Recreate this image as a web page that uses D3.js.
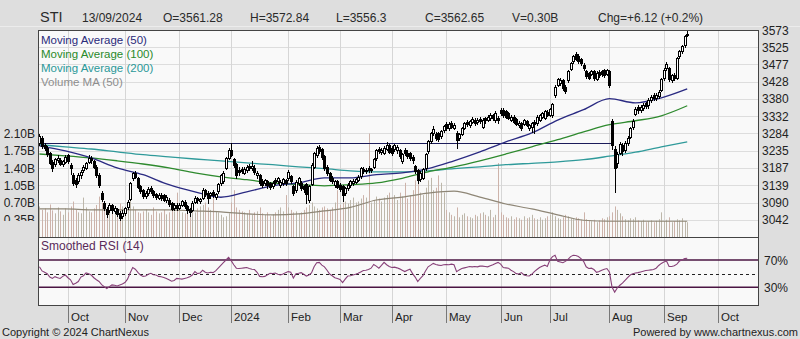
<!DOCTYPE html>
<html><head><meta charset="utf-8">
<script src="https://cdn.jsdelivr.net/npm/d3@7"></script>
<style>
html,body{margin:0;padding:0;background:#dedede;}
svg{display:block;font-family:"Liberation Sans",Arial,sans-serif;}
</style></head><body>
<svg id="c" width="800" height="339"></svg>
<script>
// ---------- calendar (categories) ----------
const calendarStart = '2023-09-15';
const calendarEnd = '2024-10-31';
const holidays = ['2023-11-13','2023-12-25','2024-01-01','2024-02-12','2024-03-29','2024-04-10','2024-05-01','2024-05-22','2024-06-17','2024-08-09','2024-10-31'];
const monthLabels = ['Oct','Nov','Dec','2024','Feb','Mar','Apr','May','Jun','Jul','Aug','Sep','Oct'];

// ---------- header / legend text ----------
const headerItems = ['STI','13/09/2024','O=3561.28','H=3572.84','L=3556.3','C=3562.65','V=0.30B','Chg=+6.12 (+0.2%)'];
const legendItems = ['Moving Average (50)','Moving Average (100)','Moving Average (200)','Volume MA (50)'];

// ---------- axis ticks ----------
const priceTicks = [3042,3090,3139,3187,3235,3284,3332,3380,3428,3477,3525,3573];
const volumeTicks = [0.35,0.70,1.05,1.40,1.75,2.10];
const volumeTickLabels = ['0.35B','0.70B','1.05B','1.40B','1.75B','2.10B'];
const rsiBands = [70,30];
const rsiBandLabels = ['70%','30%'];
const rsiMid = 50;

// ---------- daily OHLC (one value per trading day) ----------
const opens = [3258,3272,3250,3244,3228,3203,3198,3208,3210,3198,3204,
3222,3196,3168,3152,3150,3166,3180,3188,3204,3214,3206,3190,3168,3118,3090,3072,3070,3082,3066,3072,3062,3052,
3062,3078,3100,3158,3172,3158,3136,3124,3108,3116,3130,3122,3114,3104,3112,3110,3098,3098,3088,3074,3084,
3076,3084,3092,3080,3072,3070,3092,3102,3094,3104,3124,3118,3110,3120,3106,3122,3144,3150,3188,3216,
3238,3212,3198,3180,3184,3174,3182,3192,3186,3188,3166,3166,3150,3144,3150,3144,3136,3154,3150,3140,3145,3152,
3158,3165,3136,3125,3146,3145,3136,3142,3098,3142,3190,3222,3246,3240,3221,3190,3172,3160,3138,3150,
3140,3136,3118,3132,3138,3144,3148,3154,3164,3184,3178,3186,3180,3190,3214,3240,3232,3230,3240,3250,
3244,3240,3236,3236,3206,3236,3230,3228,3218,3192,3180,3156,3160,3186,3234,3262,3284,3282,3284,3276,3292,
3310,3298,3312,3300,3286,3270,3282,3300,3316,3306,3316,3320,3316,3324,3302,3326,3322,3326,3334,3320,3328,
3350,3350,3346,3340,3322,3330,3324,3306,3312,3310,3318,3298,3302,3316,3312,3322,3330,3328,3344,
3336,3336,3390,3420,3424,3432,3414,3432,3464,3486,3506,3500,3492,3476,3458,3452,3450,3458,3436,3456,3458,3460,3450,
3458,3318,3240,3200,3230,3250,3236,3258,3274,3302,3338,3358,3348,3354,3368,3362,3376,3390,3382,3388,3406,
3438,3466,3466,3434,3446,3440,3500,3514,3530,3561.28];
const highs = [3282,3276,3256,3248,3232,3208,3216,3222,3214,3210,3224,
3226,3200,3172,3160,3172,3182,3194,3204,3224,3220,3210,3194,3172,3122,3094,3078,3088,3086,3080,3076,3066,3068,
3078,3096,3149,3176,3178,3162,3140,3128,3122,3134,3136,3126,3118,3116,3116,3114,3110,3102,3092,3088,3088,
3090,3098,3096,3084,3076,3094,3108,3106,3104,3130,3128,3122,3120,3124,3118,3146,3170,3178,3218,3242,
3256,3216,3202,3190,3190,3190,3196,3198,3206,3194,3178,3170,3156,3156,3154,3148,3150,3160,3162,3152,3160,3156,
3180,3168,3140,3152,3162,3150,3140,3146,3140,3200,3232,3248,3250,3244,3224,3194,3176,3164,3154,3154,
3144,3140,3134,3144,3154,3156,3160,3166,3190,3190,3188,3192,3188,3216,3240,3246,3244,3248,3260,3254,
3248,3254,3252,3240,3230,3242,3236,3232,3222,3196,3184,3178,3188,3230,3266,3288,3304,3288,3288,3294,3308,
3316,3316,3318,3312,3290,3286,3302,3316,3320,3322,3330,3326,3328,3330,3326,3330,3336,3340,3338,3346,3332,
3356,3354,3350,3344,3336,3334,3328,3318,3316,3324,3322,3310,3316,3320,3334,3338,3344,3350,3348,
3356,3370,3418,3440,3440,3436,3418,3462,3484,3504,3512,3506,3496,3480,3462,3456,3462,3462,3458,3460,3462,3464,3464,
3462,3325,3248,3232,3260,3256,3262,3276,3302,3324,3358,3362,3364,3368,3372,3382,3392,3396,3398,3406,3440,
3466,3484,3470,3450,3452,3498,3518,3532,3560,3572.84];
const lows = [3252,3244,3236,3220,3198,3178,3192,3204,3194,3192,3200,
3202,3170,3140,3134,3146,3160,3176,3184,3200,3202,3186,3162,3134,3094,3070,3050,3064,3062,3060,3052,3040,3046,
3056,3072,3096,3154,3158,3130,3116,3102,3104,3112,3116,3106,3100,3100,3098,3094,3092,3080,3068,3070,3070,
3072,3080,3076,3062,3052,3066,3088,3090,3088,3100,3108,3090,3104,3106,3100,3118,3140,3146,3184,3212,
3220,3190,3160,3168,3172,3170,3176,3180,3182,3170,3160,3140,3134,3138,3132,3128,3130,3142,3144,3134,3140,3140,
3154,3146,3112,3120,3140,3126,3120,3090,3092,3138,3186,3218,3228,3212,3182,3168,3150,3144,3134,3130,
3122,3095,3112,3126,3134,3140,3144,3150,3160,3172,3174,3176,3176,3186,3210,3228,3226,3226,3236,3228,
3222,3234,3230,3214,3200,3222,3214,3210,3200,3172,3146,3150,3156,3182,3230,3258,3280,3266,3262,3270,3288,
3294,3294,3298,3296,3244,3266,3278,3296,3304,3302,3312,3308,3310,3312,3298,3314,3318,3320,3322,3316,3314,
3336,3330,3326,3324,3318,3312,3306,3302,3294,3306,3304,3294,3288,3286,3308,3318,3326,3324,3332,
3332,3330,3386,3416,3418,3404,3396,3428,3460,3482,3488,3482,3476,3462,3440,3436,3446,3434,3432,3442,3444,3442,3446,
3414,3240,3120,3190,3226,3224,3232,3250,3270,3296,3334,3342,3344,3350,3354,3356,3372,3376,3378,3384,3402,
3434,3460,3430,3428,3434,3436,3496,3510,3526,3556.3];
const closes = [3276,3248,3242,3226,3202,3186,3212,3216,3198,3205,3218,
3206,3186,3145,3142,3168,3176,3190,3200,3216,3208,3190,3166,3140,3100,3076,3058,3082,3070,3076,3058,3048,3062,
3074,3092,3145,3172,3162,3134,3122,3108,3118,3128,3122,3112,3106,3112,3104,3098,3106,3086,3072,3082,3076,
3084,3094,3080,3070,3064,3090,3104,3096,3100,3126,3114,3104,3116,3112,3114,3142,3166,3174,3214,3238,
3222,3194,3166,3176,3178,3184,3190,3186,3192,3176,3172,3146,3140,3152,3138,3134,3146,3148,3158,3148,3156,3145,
3176,3150,3118,3148,3158,3130,3128,3115,3137,3196,3228,3242,3234,3218,3188,3172,3154,3150,3150,3134,
3128,3110,3130,3138,3150,3150,3155,3162,3186,3178,3182,3180,3184,3212,3236,3234,3238,3242,3252,3232,
3228,3250,3246,3220,3226,3228,3220,3216,3208,3178,3152,3172,3184,3226,3262,3284,3296,3272,3268,3290,3304,
3300,3310,3302,3308,3264,3282,3298,3312,3310,3318,3324,3314,3322,3318,3322,3320,3330,3334,3328,3342,3320,
3340,3336,3330,3328,3330,3316,3310,3314,3300,3320,3308,3306,3312,3310,3330,3334,3340,3346,3336,
3352,3366,3414,3436,3434,3410,3402,3458,3480,3500,3492,3486,3481,3466,3444,3440,3458,3440,3452,3446,3450,3446,3460,
3418,3250,3186,3226,3254,3233,3256,3271,3299,3319,3352,3350,3358,3362,3360,3378,3386,3382,3392,3400,3436,
3462,3478,3436,3446,3440,3494,3514,3528,3556.53,3562.65];
// daily volume, billions
const volumes = [0.62,0.55,0.58,0.50,0.66,0.54,0.48,0.60,0.52,0.45,0.58,
0.50,0.62,0.72,0.55,0.50,0.48,0.80,0.60,0.52,0.50,0.58,0.65,0.82,0.70,0.60,0.55,0.50,0.60,0.48,0.55,0.68,0.62,
0.60,0.72,0.80,0.62,0.55,0.50,0.48,0.52,0.56,0.50,0.45,0.60,0.52,0.48,0.50,0.55,0.46,0.50,0.58,0.52,0.90,
0.55,0.50,0.48,0.52,0.60,0.55,0.50,0.58,0.62,0.65,0.70,0.60,0.55,0.90,0.52,0.50,0.45,0.40,0.42,0.48,
0.70,0.95,0.60,0.55,0.52,0.50,0.48,0.55,0.45,0.50,0.52,0.60,0.48,0.45,0.50,0.42,0.46,0.50,0.55,0.60,0.52,0.85,
0.60,0.55,0.50,0.52,0.48,0.50,0.55,0.60,0.65,0.70,0.62,0.58,0.55,0.60,0.62,0.58,0.55,0.60,0.70,0.95,
0.65,0.70,0.72,0.68,0.75,0.80,0.70,0.72,0.78,0.85,0.80,2.10,0.70,0.75,0.82,0.78,0.72,0.80,0.85,0.90,
0.80,0.85,0.75,0.90,0.82,1.10,0.78,0.85,0.95,1.15,1.20,0.90,0.85,1.00,1.15,1.20,0.95,1.00,1.25,1.10,0.90,
0.55,0.50,0.45,0.42,0.60,0.40,0.45,0.48,0.42,0.40,0.38,0.45,0.42,0.48,0.50,0.45,0.42,0.55,0.40,0.45,1.50,
0.50,0.45,0.40,0.38,0.42,0.36,0.40,0.38,0.35,0.42,0.38,0.40,0.45,0.38,0.36,0.40,0.35,0.38,0.42,
0.45,0.50,0.42,0.38,0.36,0.40,0.45,0.42,0.38,0.36,0.40,0.38,0.35,0.50,0.36,0.34,0.32,0.35,0.30,0.34,0.38,0.36,0.40,
0.42,0.50,0.62,0.55,0.48,0.42,0.36,0.34,0.38,0.36,0.40,0.34,0.32,0.35,0.30,0.32,0.34,0.30,0.33,0.36,0.50,
0.32,0.35,0.40,0.30,0.32,0.36,0.34,0.38,0.32,0.30];
// smoothed RSI(14), daily
const rsi = [60,54,52,50,45,43,45.6,44,43,46,48,
44,41,34,36,38.5,45,47,51,50,48,44,41,38.5,34,31,28,31,33.5,33,32,33.5,35,
37,42,51,59,56.5,52,48,46,46.5,49,50.5,48.5,48,46,45.5,44.5,43,41,39,40,43,
42.5,42,43,44,45.5,48,53,50,51,55,52,51,52,51.5,54,58,62,66,70,74,
69,63,58,57.5,58,58.5,59,57.5,56.5,56,52,46,45.5,46,48.5,50.5,50,51,49,48,49.5,51.5,
53,52,43.5,50,50.5,51.5,49,46.5,48,51,60,66,66.5,62.5,60,55,49.5,47,44,43,
41.5,37,42,46.5,47,48,49,50.5,52.5,54.5,55,56,58,63.5,61,58,62,66.5,63,60.5,
59,59.5,58.5,57,55,53,55,56.5,50,45,38.5,43,47,54,60,62.5,65,63.5,62.5,62,63,
63.5,63,64,63,53,55.5,57.5,58.5,59.5,60.5,60,60.5,60,61,61,60.5,60,61.5,63,65,66.5,
64,59,58.5,58,55,53,50,49.5,51.5,48,47,46.5,49,53,56,59,61,62.5,60.5,
70,75,77,68,67,66,68,71,75,77,76.5,75,72,68,60,57.5,58,56,52,53,55,56.5,57.5,
52,30,23,29,33,36,40,44,48,50,51,51.5,52.5,53.5,54.5,55,55.5,56,58,62,65,
67,68.5,60.5,60.5,61.5,64,68.5,70,72,72.5];

// ---------- moving averages, read every 10th session ----------
const maStep = 10;
const ma50  = [3249,3235,3215,3187,3168,3140,3120,3105,3120,3137,3145,3159,3159,3168,3173,3185,3207,3232,3260,3285,3321,3350,3381,3369,3383,3408];
const ma100 = [3226,3221,3215,3207,3198,3187,3173,3162,3154,3145,3140,3137,3140,3145,3158,3176,3190,3207,3226,3246,3266,3288,3308,3319,3333,3361];
const ma200 = [3252,3246,3240,3232,3224,3218,3212,3207,3201,3196,3190,3185,3179,3176,3176,3179,3185,3190,3196,3200,3204,3210,3220,3231,3246,3260];
const volMA = [0.57,0.57,0.55,0.55,0.55,0.55,0.53,0.51,0.47,0.45,0.47,0.53,0.60,0.75,0.81,0.89,0.93,0.81,0.67,0.57,0.45,0.34,0.32,0.32,0.32,0.32];
const levelLine = {value: 3257, from: 0, to: 221};

// ---------- build trading calendar ----------
const fmt = d3.utcFormat('%Y-%m-%d');
const hol = new Set(holidays);
const days = [];
for (let d = new Date(calendarStart + 'T00:00:00Z'); d <= new Date(calendarEnd + 'T00:00:00Z'); d = d3.utcDay.offset(d, 1)) {
  const wd = d.getUTCDay();
  if (wd === 0 || wd === 6 || hol.has(fmt(d))) continue;
  days.push(new Date(d));
}
const monthStarts = [];
for (let i = 1; i < days.length; i++) {
  if (days[i].getUTCMonth() !== days[i-1].getUTCMonth()) monthStarts.push(i);
}

// ---------- layout ----------
const L = 38, R = 759, T = 30, MB = 237, RB = 306;
const svg = d3.select('#c');
const x = d3.scaleLinear().domain([-0.55, 277.7]).range([L, R]);
const yP = d3.scaleLinear().domain([2993.7, 3573]).range([MB, T]);
const yV = d3.scaleLinear().domain([0, 4.2]).range([MB, T]);
const yR = d3.scaleLinear().domain([30, 70]).range([287.3, 260]);

svg.append('rect').attr('width', 800).attr('height', 339).attr('fill', '#dedede');
svg.append('line').attr('x1', 0).attr('x2', 800).attr('y1', 26.5).attr('y2', 26.5).attr('stroke', '#ececec');

const defs = svg.append('defs');
defs.append('clipPath').attr('id', 'mainClip').append('rect').attr('x', L).attr('y', T).attr('width', R - L).attr('height', MB - T);
defs.append('clipPath').attr('id', 'rsiClip').append('rect').attr('x', L).attr('y', MB).attr('width', R - L).attr('height', RB - MB);
defs.append('clipPath').attr('id', 'leftClip').append('rect').attr('x', 0).attr('y', T - 10).attr('width', L).attr('height', 221 - T + 10);

// panels
svg.append('rect').attr('x', L).attr('y', T).attr('width', R - L).attr('height', MB - T).attr('fill', '#f9f9f9');
svg.append('rect').attr('x', L).attr('y', MB).attr('width', R - L).attr('height', RB - MB).attr('fill', '#f9f9f9');

const main = svg.append('g').attr('clip-path', 'url(#mainClip)');
const crisp = v => Math.round(v) + 0.5;

// gridlines
main.selectAll('.hg').data(priceTicks).join('line')
  .attr('x1', L).attr('x2', R).attr('y1', d => crisp(yP(d))).attr('y2', d => crisp(yP(d)))
  .attr('stroke', '#dddddd');
main.selectAll('.vg').data(monthStarts).join('line')
  .attr('x1', d => crisp(x(d))).attr('x2', d => crisp(x(d))).attr('y1', T).attr('y2', MB)
  .attr('stroke', '#d6d6d6');

// volume bars
main.selectAll('.vb').data(volumes).join('line')
  .attr('x1', (d, i) => crisp(x(i))).attr('x2', (d, i) => crisp(x(i)))
  .attr('y1', d => yV(d)).attr('y2', MB)
  .attr('stroke', (d, i) => closes[i] >= opens[i] ? '#bdb7aa' : '#cdb3aa');

// volume MA
const maLine = (arr, ys) => d3.line().x((d, k) => x(k * maStep)).y(d => ys(d)).curve(d3.curveMonotoneX)(arr);
main.append('path').attr('d', maLine(volMA, yV)).attr('fill', 'none').attr('stroke', '#8e8676').attr('stroke-width', 1.2);

// level line
main.append('line').attr('x1', x(levelLine.from) - 1.5).attr('x2', x(levelLine.to))
  .attr('y1', crisp(yP(levelLine.value))).attr('y2', crisp(yP(levelLine.value)))
  .attr('stroke', '#1c1c5a').attr('stroke-width', 1.2);

// moving averages
main.append('path').attr('d', maLine(ma200, yP)).attr('fill', 'none').attr('stroke', '#2f9a9a').attr('stroke-width', 1.3);
main.append('path').attr('d', maLine(ma100, yP)).attr('fill', 'none').attr('stroke', '#2e8a2e').attr('stroke-width', 1.3);
main.append('path').attr('d', maLine(ma50, yP)).attr('fill', 'none').attr('stroke', '#2a2a82').attr('stroke-width', 1.3);

// candles
const cg = main.append('g');
closes.forEach((c, i) => {
  const o = opens[i], h = highs[i], l = lows[i];
  const cx = Math.round(x(i));
  cg.append('line').attr('x1', cx + 0.5).attr('x2', cx + 0.5).attr('y1', Math.round(yP(h))).attr('y2', Math.round(yP(l)) + 1)
    .attr('stroke', '#000');
  const top = Math.round(yP(Math.max(o, c))), bot = Math.round(yP(Math.min(o, c)));
  cg.append('rect').attr('x', cx - 0.5).attr('y', top + 0.5).attr('width', 2).attr('height', Math.max(1, bot - top))
    .attr('fill', c >= o ? '#ffffff' : '#000000').attr('stroke', '#000').attr('stroke-width', 1);
});

// RSI panel
const rg = svg.append('g').attr('clip-path', 'url(#rsiClip)');
rg.selectAll('.rvg').data(monthStarts).join('line')
  .attr('x1', d => crisp(x(d))).attr('x2', d => crisp(x(d))).attr('y1', MB).attr('y2', RB)
  .attr('stroke', '#d6d6d6');
rg.selectAll('.band').data(rsiBands).join('line')
  .attr('x1', L).attr('x2', R).attr('y1', d => yR(d)).attr('y2', d => yR(d))
  .attr('stroke', '#4a1442').attr('stroke-width', 1.6);
rg.append('line').attr('x1', L).attr('x2', R).attr('y1', crisp(yR(rsiMid))).attr('y2', crisp(yR(rsiMid)))
  .attr('stroke', '#222').attr('stroke-dasharray', '3,3');
rg.append('path').attr('d', d3.line().x((d, i) => x(i)).y(d => yR(d))(rsi))
  .attr('fill', 'none').attr('stroke', '#874078').attr('stroke-width', 1.1);

// borders
svg.append('rect').attr('x', L + 0.5).attr('y', T + 0.5).attr('width', R - L - 1).attr('height', RB - T - 1)
  .attr('fill', 'none').attr('stroke', '#444');
svg.append('line').attr('x1', L).attr('x2', R).attr('y1', MB + 0.5).attr('y2', MB + 0.5).attr('stroke', '#444');

// x-axis ticks & labels
svg.selectAll('.xt').data(monthStarts).join('line')
  .attr('x1', d => crisp(x(d))).attr('x2', d => crisp(x(d))).attr('y1', RB).attr('y2', 323)
  .attr('stroke', '#777');
svg.selectAll('.xl').data(monthStarts).join('text')
  .attr('x', d => Math.round(x(d)) + 3).attr('y', 321)
  .attr('font-size', 11.5).attr('fill', '#222')
  .text((d, k) => monthLabels[k]);

// right price labels
svg.selectAll('.pl').data(priceTicks).join('text')
  .attr('x', 762).attr('y', d => yP(d) + 4.5)
  .attr('font-size', 12).attr('fill', '#222').text(d => d);

// left volume labels (clipped like the reference)
svg.append('g').attr('clip-path', 'url(#leftClip)').selectAll('text').data(volumeTicks).join('text')
  .attr('x', 35).attr('y', d => yV(d) + 4.5).attr('text-anchor', 'end')
  .attr('font-size', 12).attr('fill', '#222')
  .text((d, k) => volumeTickLabels[k]);

// RSI labels
svg.selectAll('.rl').data(rsiBands).join('text')
  .attr('x', 764).attr('y', d => yR(d) + 4.5)
  .attr('font-size', 12).attr('fill', '#222')
  .text((d, k) => rsiBandLabels[k]);
svg.append('text').attr('x', 41).attr('y', 250).attr('font-size', 12).attr('fill', '#5a2a5a').text('Smoothed RSI (14)');

// legend
const legendColors = ['#2a2a7a', '#2a8a2a', '#2a9898', '#8e8e8e'];
legendItems.forEach((t, k) => {
  svg.append('text').attr('x', 41).attr('y', 43.5 + k * 14).attr('font-size', 11.5)
    .attr('fill', legendColors[k]).text(t);
});

// header
const headerX = [40, 82, 163, 250, 336, 425, 512, 598];
headerItems.forEach((t, k) => {
  svg.append('text').attr('x', headerX[k]).attr('y', k === 0 ? 22 : 21.5)
    .attr('font-size', k === 0 ? 14.5 : 12).attr('fill', '#2a2a2a').text(t);
});

// footer
svg.append('text').attr('x', 2).attr('y', 335.5).attr('font-size', 11).attr('fill', '#222').text('Copyright \u00A9 2024 ChartNexus');
svg.append('text').attr('x', 798).attr('y', 335.5).attr('text-anchor', 'end').attr('font-size', 11).attr('fill', '#222').text('Powered by www.chartnexus.com');
</script>
</body></html>
